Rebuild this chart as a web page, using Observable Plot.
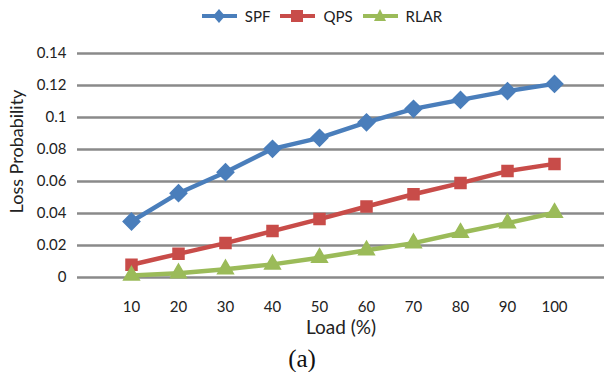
<!DOCTYPE html>
<html><head><meta charset="utf-8">
<script src="https://cdn.jsdelivr.net/npm/d3@7"></script>
<script src="https://cdn.jsdelivr.net/npm/@observablehq/plot@0.6"></script>
<style>
body{margin:0;background:#fff;font-family:Lato,"Open Sans",sans-serif;}
#wrap{position:relative;width:604px;height:372px;overflow:hidden;}
#chart{position:absolute;top:0;left:0;}
#legend{position:absolute;top:6px;left:0;width:604px;display:flex;justify-content:center;gap:10px;font-size:15px;color:#222;padding-left:40px;box-sizing:border-box}
.item{display:flex;align-items:center;gap:8px}
#cap{position:absolute;top:346px;left:0;width:604px;text-align:center;font-family:"Liberation Serif","DejaVu Serif",serif;font-size:25px;line-height:25px;color:#111}
</style></head><body>
<div id="wrap"><div id="chart"></div><div id="legend"></div><div id="cap">(a)</div></div>
<script>
const loads = [10,20,30,40,50,60,70,80,90,100];
const spf  = [0.035,0.0527,0.0658,0.0804,0.0873,0.097,0.1054,0.111,0.1165,0.121];
const qps  = [0.008,0.0148,0.0215,0.029,0.0365,0.0444,0.052,0.059,0.0665,0.071];
const rlar = [0.0012,0.0027,0.0052,0.0082,0.0123,0.017,0.0215,0.028,0.034,0.0405];
const seriesNames = ["SPF","QPS","RLAR"];
const colors = ["#4a7ebb","#c84c49","#9bbb59"];
const yTicks = [0,0.02,0.04,0.06,0.08,0.1,0.12,0.14];
const yLabels = ["0","0.02","0.04","0.06","0.08","0.1","0.12","0.14"];
const xTitle = "Load (%)";
const yTitle = "Loss Probability";

const vals = [spf,qps,rlar];
const data = [];
seriesNames.forEach((s,i)=>loads.forEach((l,j)=>data.push({series:s,load:String(l),value:vals[i][j],idx:i})));

const chart = Plot.plot({
  width:604, height:346,
  marginLeft:77, marginRight:0, marginTop:53, marginBottom:69,
  style:{fontFamily:"Lato, 'Open Sans', sans-serif", fontSize:"15px", color:"#222", background:"transparent"},
  x:{type:"point", domain:loads.map(String), range:[104,581]},
  y:{domain:[0,0.14]},
  marks:[
    Plot.ruleY(yTicks,{stroke:"#8a8a8a",strokeWidth:2.5}),
    Plot.axisY({ticks:yTicks, tickFormat:(d)=>yLabels[yTicks.indexOf(d)], tickSize:0, tickPadding:11, label:null, fontSize:15}),
    Plot.axisX({tickSize:0, tickPadding:24, label:null, fontSize:15}),
    Plot.text([xTitle],{frameAnchor:"bottom", textAnchor:"middle", dy:56, fontSize:19, fill:"#222"}),
    Plot.text([yTitle],{frameAnchor:"left", textAnchor:"middle", rotate:-90, dx:-60, dy:-14, fontSize:18, fill:"#222"}),
    Plot.line(data,{x:"load", y:"value", z:"series", stroke:(d)=>colors[d.idx], strokeWidth:4.5}),
    Plot.dot(data.filter(d=>d.series==="SPF"),{x:"load", y:"value", symbol:"diamond2", fill:colors[0], stroke:colors[0], r:7.5}),
    Plot.dot(data.filter(d=>d.series==="QPS"),{x:"load", y:"value", symbol:"square2", fill:colors[1], stroke:colors[1], r:7}),
    Plot.dot(data.filter(d=>d.series==="RLAR"),{x:"load", y:"value", symbol:"triangle2", fill:colors[2], stroke:colors[2], r:7.5})
  ]
});
document.getElementById("chart").append(chart);

const leg = document.getElementById("legend");
seriesNames.forEach((s,i)=>{
  const it = document.createElement("div"); it.className="item";
  let shape;
  if(i===0) shape = '<path d="M17,3 L23,10 L17,17 L11,10Z" fill="'+colors[i]+'"/>';
  else if(i===1) shape = '<rect x="11" y="4" width="12" height="12" fill="'+colors[i]+'"/>';
  else shape = '<path d="M17,3 L23,15 L11,15Z" fill="'+colors[i]+'"/>';
  it.innerHTML = '<svg width="35" height="20"><line x1="0" x2="35" y1="10" y2="10" stroke="'+colors[i]+'" stroke-width="4"/>'+shape+'</svg><span>'+s+'</span>';
  leg.append(it);
});
</script>
</body></html>
